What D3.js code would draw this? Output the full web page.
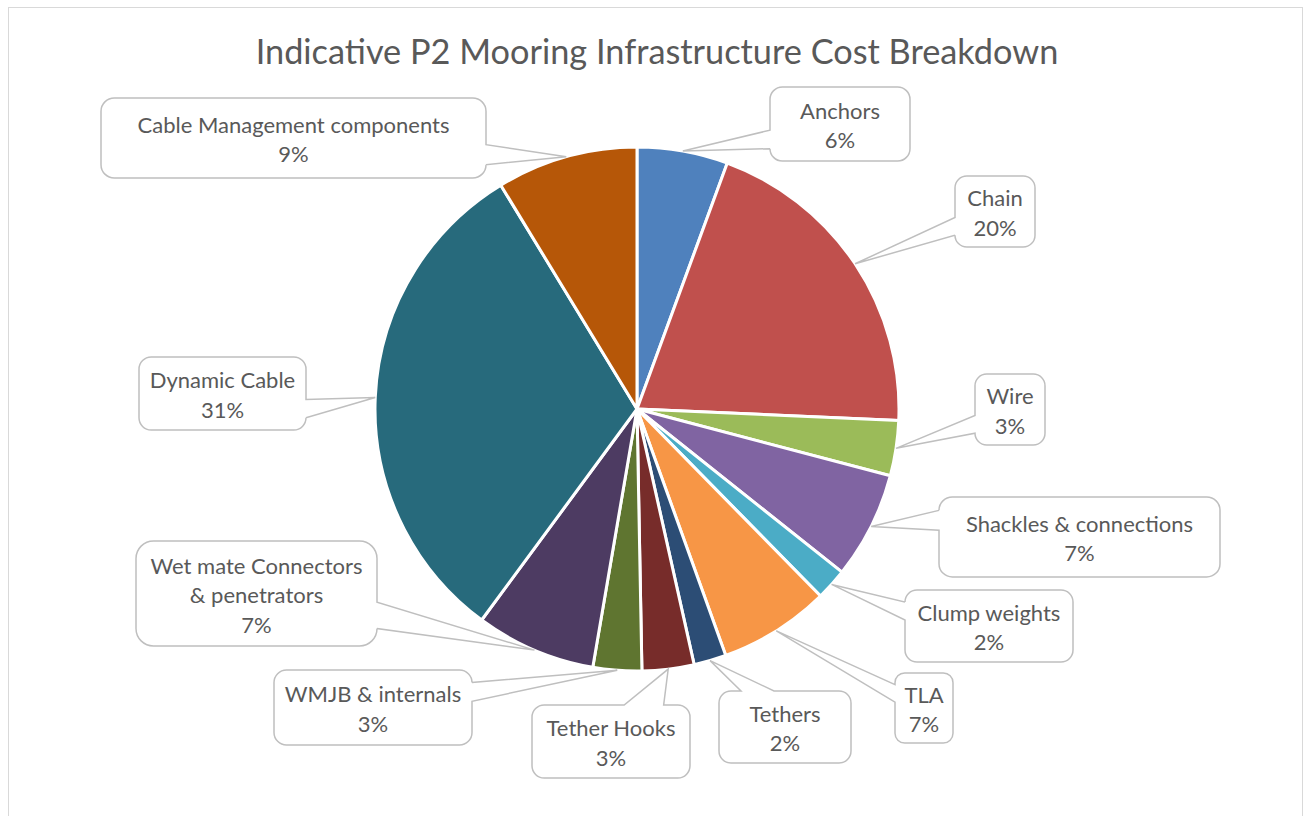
<!DOCTYPE html>
<html>
<head>
<meta charset="utf-8">
<script src="https://cdn.jsdelivr.net/npm/d3@7/dist/d3.min.js"></script>
<style>
  body { margin: 0; background: #fff; }
  text { font-family: Lato, "Open Sans", sans-serif; fill: #595959; }
</style>
</head>
<body>
<svg id="chart" width="1310" height="816"></svg>
<script>
// data
const categories = ["Anchors", "Chain", "Wire", "Shackles & connections", "Clump weights", "TLA",
  "Tethers", "Tether Hooks", "WMJB & internals", "Wet mate Connectors & penetrators",
  "Dynamic Cable", "Cable Management components"];
const shares = [5.6, 20.1, 3.4, 6.6, 1.95, 6.85, 2.0, 3.2, 3.0, 7.4, 31.2, 8.7];
const colors = ["#4F81BD", "#C0504D", "#9BBB59", "#8064A2", "#4BACC6", "#F79646",
  "#2C4D75", "#772C2A", "#5F7530", "#4D3B62", "#276A7C", "#B65708"];
// how each label is broken into lines
const labelLines = [["Anchors"], ["Chain"], ["Wire"], ["Shackles & connections"], ["Clump weights"], ["TLA"],
  ["Tethers"], ["Tether Hooks"], ["WMJB & internals"], ["Wet mate Connectors", "& penetrators"],
  ["Dynamic Cable"], ["Cable Management components"]];

// callout boxes as placed in the original (left, top, width, height)
const boxes = [
  [770, 87, 140, 74], [955, 176, 80, 71], [975, 374, 70, 71], [939, 497, 281, 80],
  [905, 590, 168, 72], [895, 673, 58, 70], [719, 691, 132, 72], [532, 705, 158, 73],
  [274, 670, 198, 75], [136, 541, 241, 105], [139, 357, 167, 73], [101, 98, 385, 80]
];

const svg = d3.select("#chart");
const cx = 637, cy = 409, R = 262;

// chart border
svg.append("rect")
  .attr("x", 8.5).attr("y", 7.5).attr("width", 1294).attr("height", 830)
  .attr("fill", "none").attr("stroke", "#d9d9d9").attr("stroke-width", 1);

svg.append("text")
  .attr("x", 657).attr("y", 50)
  .attr("text-anchor", "middle").attr("dominant-baseline", "central")
  .attr("font-size", 34.3)
  .text("Indicative P2 Mooring Infrastructure Cost Breakdown");

const total = d3.sum(shares);
const pie = d3.pie().sort(null).value(d => d)(shares);
const arc = d3.arc().innerRadius(0).outerRadius(R);

const g = svg.append("g").attr("transform", `translate(${cx},${cy})`);
g.selectAll("path")
  .data(pie)
  .join("path")
  .attr("d", arc)
  .attr("fill", (d, i) => colors[i])
  .attr("stroke", "#fff")
  .attr("stroke-width", 3)
  .attr("stroke-linejoin", "round");

// rounded-rect callout with a wedge pointing at (px, py), like Excel's wedgeRoundRectCallout
function callout(l, t, w, h, px, py) {
  const r = Math.min(w, h) * 0.16667;
  const hc = l + w / 2, vc = t + h / 2;
  const dx = px - hc, dy = py - vc;
  const dz = Math.abs(dy) - Math.abs(dx * h / w);
  let side;
  if (dz > 0) side = dy < 0 ? "top" : "bottom";
  else side = dx < 0 ? "left" : "right";
  const x1 = l + w * (dx > 0 ? 7 : 2) / 12, x2 = l + w * (dx > 0 ? 10 : 5) / 12;
  const y1 = t + h * (dy > 0 ? 7 : 2) / 12, y2 = t + h * (dy > 0 ? 10 : 5) / 12;
  const p = d3.path();
  p.moveTo(l, t + r);
  p.arcTo(l, t, l + r, t, r);
  if (side === "top") { p.lineTo(x1, t); p.lineTo(px, py); p.lineTo(x2, t); }
  p.lineTo(l + w - r, t);
  p.arcTo(l + w, t, l + w, t + r, r);
  if (side === "right") { p.lineTo(l + w, y1); p.lineTo(px, py); p.lineTo(l + w, y2); }
  p.lineTo(l + w, t + h - r);
  p.arcTo(l + w, t + h, l + w - r, t + h, r);
  if (side === "bottom") { p.lineTo(x2, t + h); p.lineTo(px, py); p.lineTo(x1, t + h); }
  p.lineTo(l + r, t + h);
  p.arcTo(l, t + h, l, t + h - r, r);
  if (side === "left") { p.lineTo(l, y2); p.lineTo(px, py); p.lineTo(l, y1); }
  p.closePath();
  return p.toString();
}

const labels = svg.append("g");
pie.forEach((d, i) => {
  const mid = (d.startAngle + d.endAngle) / 2;
  const px = cx + R * Math.sin(mid), py = cy - R * Math.cos(mid);
  const [l, t, w, h] = boxes[i];
  labels.append("path")
    .attr("d", callout(l, t, w, h, px, py))
    .attr("fill", "#fff")
    .attr("stroke", "#bfbfbf")
    .attr("stroke-width", 1.5);
  const lines = labelLines[i].concat([Math.round(d.value / total * 100) + "%"]);
  const lh = 29.5;
  const y0 = t + h / 2 - (lines.length - 1) * lh / 2 + 1;
  const txt = labels.append("text")
    .attr("text-anchor", "middle")
    .attr("font-size", 22);
  txt.selectAll("tspan")
    .data(lines)
    .join("tspan")
    .attr("x", l + w / 2)
    .attr("y", (s, k) => y0 + k * lh)
    .attr("dominant-baseline", "central")
    .text(s => s);
});
</script>
</body>
</html>
